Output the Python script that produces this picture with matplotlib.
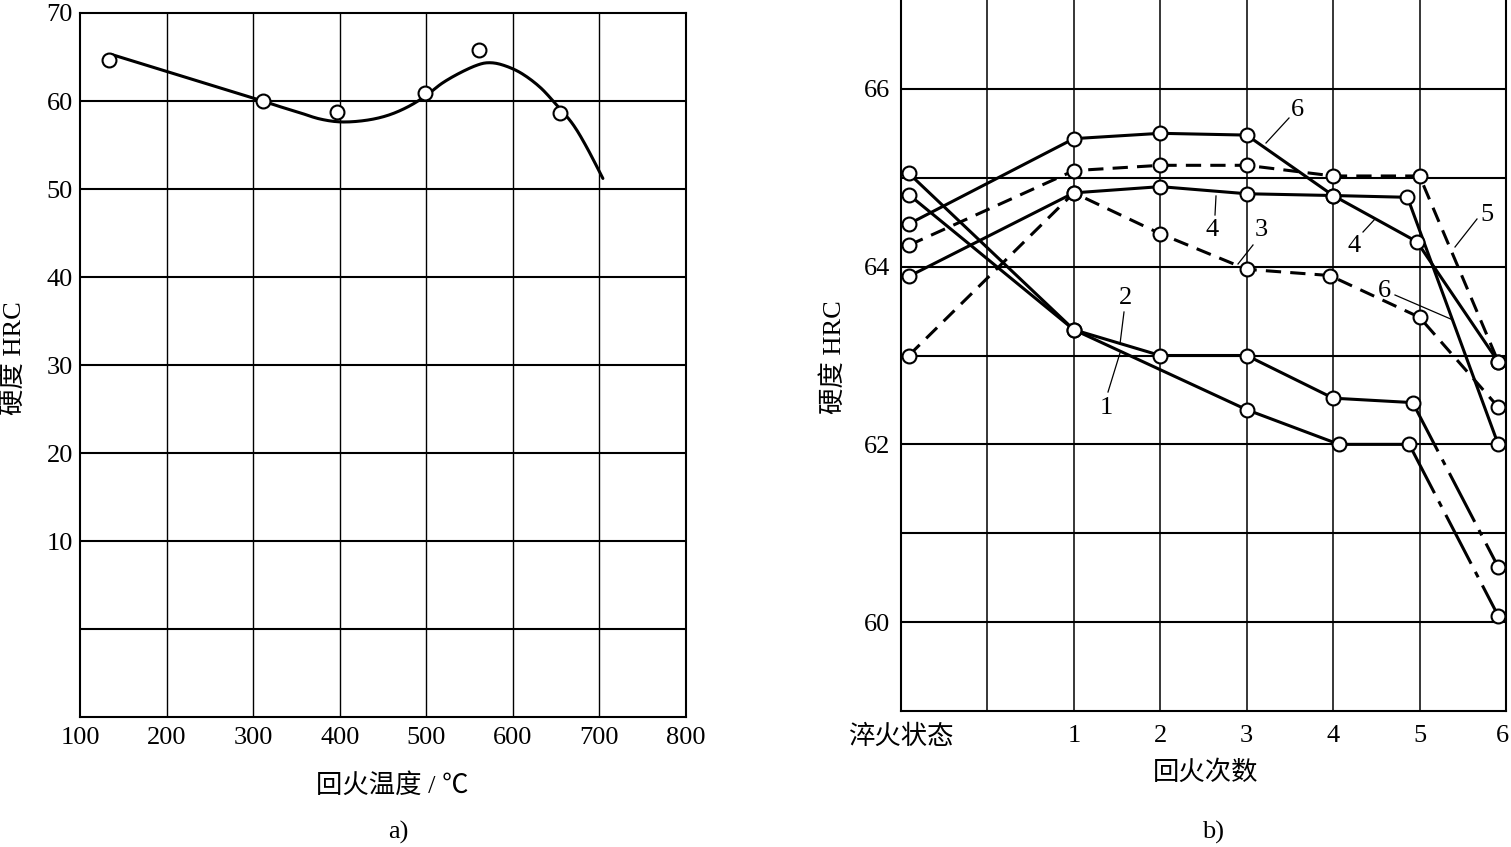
import matplotlib
matplotlib.use("Agg")
import matplotlib.pyplot as plt
import numpy as np

plt.rcParams['font.family'] = ['Liberation Serif', 'Noto Sans CJK SC', 'DejaVu Sans']
plt.rcParams['axes.unicode_minus'] = False

# ---------------- data: a) hardness vs tempering temperature ----------------
temp_pts = [133, 311, 397, 499, 561, 654]
hrc_pts = [64.7, 60.0, 58.7, 60.9, 65.8, 58.6]
# fitted curve
curve_t = [136, 311, 328, 353, 377, 402, 430, 455, 478, 499, 518, 538, 558,
           572, 588, 609, 631, 650, 669, 685, 704]
curve_h = [65.3, 60.0, 59.45, 58.7, 57.96, 57.62, 57.8, 58.35, 59.3, 60.56,
           62.0, 63.15, 64.05, 64.35, 64.1, 63.2, 61.6, 59.6, 57.4, 54.8, 51.2]
left_xticks = [100, 200, 300, 400, 500, 600, 700, 800]
left_yticks = [10, 20, 30, 40, 50, 60, 70]

# ---------------- data: b) hardness vs number of tempers ----------------
right_xtick_pos = [-1, 1, 2, 3, 4, 5, 5.96]
right_xtick_lab = ['淬火状态', '1', '2', '3', '4', '5', '6']
right_yticks = [60, 62, 64, 66]

s1_x = [-0.91, 1, 3, 4.07, 4.88, 5.91]
s1_y = [64.81, 63.29, 62.39, 62.0, 62.0, 60.07]
s2_x = [-0.91, 1, 2, 3, 4, 4.92, 5.91]
s2_y = [65.05, 63.29, 63.0, 63.0, 62.52, 62.47, 60.62]
s3_x = [-0.91, 1, 2, 3, 3.96, 5, 5.91]
s3_y = [63.0, 64.83, 64.37, 63.97, 63.9, 63.43, 62.42]
s4_x = [-0.91, 1, 2, 3, 4, 4.97, 5.91]
s4_y = [63.89, 64.83, 64.9, 64.82, 64.8, 64.28, 62.93]
s5_x = [-0.91, 1, 2, 3, 4, 5, 5.91]
s5_y = [64.24, 65.08, 65.14, 65.14, 65.02, 65.02, 62.93]
s6_x = [-0.91, 1, 2, 3, 4, 4.86, 5.91]
s6_y = [64.48, 65.44, 65.5, 65.48, 64.8, 64.78, 62.0]

W, H = 1511, 847
fig = plt.figure(figsize=(W / 100, H / 100), dpi=100)


def fx(px):
    return px / W


def fy(py):
    return 1 - py / H


def smooth_path(xs, ys, n=12):
    """Catmull-Rom rendering of a hand-drawn curve through the read points."""
    P = np.column_stack([xs, ys]).astype(float)
    P = np.vstack([P[0], P, P[-1]])
    out = []
    t = np.linspace(0, 1, n, endpoint=False)[:, None]
    for i in range(1, len(P) - 2):
        p0, p1, p2, p3 = P[i - 1], P[i], P[i + 1], P[i + 2]
        seg = 0.5 * ((2 * p1) + (-p0 + p2) * t + (2 * p0 - 5 * p1 + 4 * p2 - p3) * t ** 2
                     + (-p0 + 3 * p1 - 3 * p2 + p3) * t ** 3)
        out.append(seg)
    out.append(P[-2][None, :])
    out = np.vstack(out)
    return out[:, 0], out[:, 1]


LW = 2.2
MK = dict(marker='o', ms=10, mfc='white', mec='black', mew=1.5, ls='none', zorder=5)
TICKFS = 19

# ---------------- left panel ----------------
axL = fig.add_axes([fx(80), fy(717), 606 / W, 704 / H])
axL.set_xlim(100, 800)
axL.set_ylim(-10, 70)
for v in left_xticks[1:-1]:
    axL.axvline(v, color='black', lw=1.0, zorder=1)
for h in range(0, 70, 10):
    axL.axhline(h, color='black', lw=1.5, zorder=1)
# straight part, then smooth part
axL.plot(curve_t[:2], curve_h[:2], color='black', lw=LW, zorder=3, solid_capstyle='round')
sx, sy = smooth_path(curve_t[1:], curve_h[1:])
axL.plot(sx, sy, color='black', lw=LW, zorder=3, solid_capstyle='round')
axL.plot(temp_pts, hrc_pts, **MK)
axL.set_xticks(left_xticks)
axL.set_xticklabels([str(v) for v in left_xticks], fontsize=TICKFS)
axL.set_yticks(left_yticks)
axL.set_yticklabels([str(v) for v in left_yticks], fontsize=TICKFS)
axL.tick_params(length=0, pad=5)
axL.tick_params(axis='x', pad=7)
for s in axL.spines.values():
    s.set_linewidth(1.5)

# ---------------- right panel ----------------
axR = fig.add_axes([fx(901), fy(711), 605 / W, 711 / H])
axR.set_xlim(-1, 6)
axR.set_ylim(59, 67)
for v in range(0, 6):
    axR.axvline(v, color='black', lw=1.1, zorder=1)
for h in range(60, 67):
    axR.axhline(h, color='black', lw=1.5, zorder=1)

dashed = (0, (5, 3))
dashdot = (0, (18, 3, 2, 3))
# series 1, 2: solid, last segment dash-dot
axR.plot(s1_x[:-1], s1_y[:-1], color='black', lw=LW, zorder=3)
axR.plot(s1_x[-2:], s1_y[-2:], color='black', lw=LW, ls=dashdot, zorder=3)
axR.plot(s2_x[:-1], s2_y[:-1], color='black', lw=LW, zorder=3)
axR.plot(s2_x[-2:], s2_y[-2:], color='black', lw=LW, ls=dashdot, zorder=3)
# series 3, 5: dashed
axR.plot(s3_x, s3_y, color='black', lw=LW, ls=dashed, zorder=3)
axR.plot(s5_x, s5_y, color='black', lw=LW, ls=dashed, zorder=3)
# series 4, 6: solid
axR.plot(s4_x, s4_y, color='black', lw=LW, zorder=3)
axR.plot(s6_x, s6_y, color='black', lw=LW, zorder=3)
for xs, ys in [(s1_x, s1_y), (s2_x, s2_y), (s3_x, s3_y), (s4_x, s4_y), (s5_x, s5_y), (s6_x, s6_y)]:
    axR.plot(xs, ys, clip_on=False, **MK)

axR.set_xticks(right_xtick_pos)
axR.set_xticklabels(right_xtick_lab, fontsize=TICKFS)
axR.set_yticks(right_yticks)
axR.set_yticklabels([str(v) for v in right_yticks], fontsize=TICKFS)
axR.tick_params(length=0, pad=8)
axR.tick_params(axis='x', pad=10)
axR.spines['top'].set_visible(False)
for s in axR.spines.values():
    s.set_linewidth(1.5)

# curve labels with leader lines (pixel positions in the figure)
labels = [
    ('6', 1297, 110, (1289, 118), (1266, 143)),
    ('4', 1212, 230, (1215, 215), (1216, 196)),
    ('3', 1261, 230, (1253, 245), (1238, 264)),
    ('2', 1125, 298, (1124, 312), (1120, 344)),
    ('1', 1106, 408, (1108, 392), (1120, 353)),
    ('4', 1354, 246, (1363, 232), (1375, 219)),
    ('5', 1487, 215, (1477, 219), (1455, 247)),
    ('6', 1384, 291, (1395, 295), (1453, 320)),
]
for txt, tx, ty, p0, p1 in labels:
    fig.text(fx(tx), fy(ty), txt, fontsize=TICKFS, ha='center', va='center')
    fig.add_artist(plt.Line2D([fx(p0[0]), fx(p1[0])], [fy(p0[1]), fy(p1[1])],
                              color='black', lw=0.9, transform=fig.transFigure))

# axis titles and panel letters
fig.text(fx(14), fy(358), '硬度 HRC', rotation=90, fontsize=TICKFS, ha='center', va='center')
fig.text(fx(834), fy(357), '硬度 HRC', rotation=90, fontsize=TICKFS, ha='center', va='center')
fig.text(fx(392), fy(785), '回火温度 / ℃', fontsize=TICKFS, ha='center', va='center')
fig.text(fx(1206), fy(773), '回火次数', fontsize=TICKFS, ha='center', va='center')
fig.text(fx(398), fy(832), 'a)', fontsize=TICKFS, ha='center', va='center')
fig.text(fx(1213), fy(832), 'b)', fontsize=TICKFS, ha='center', va='center')

fig.savefig('out.png', dpi=100, facecolor='white')
